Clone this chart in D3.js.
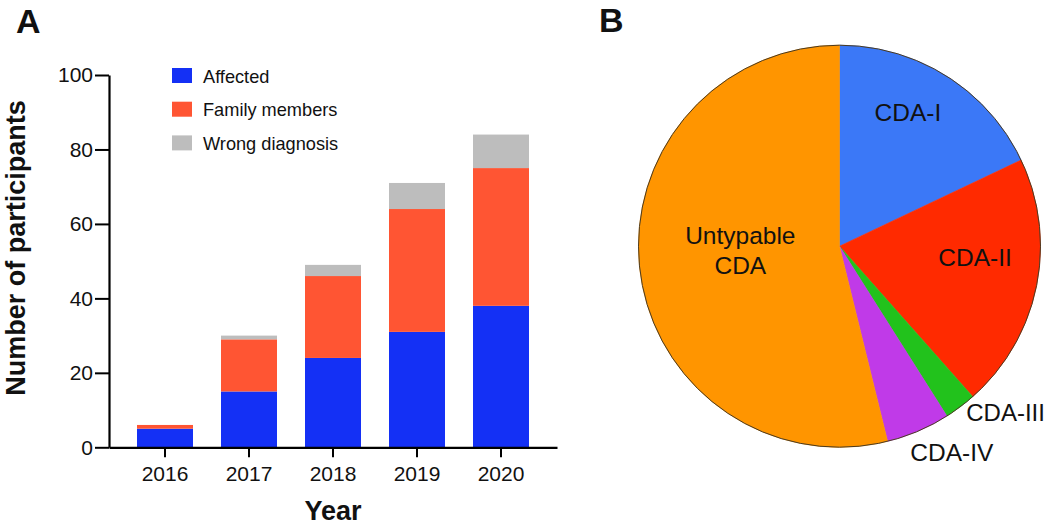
<!DOCTYPE html>
<html>
<head>
<meta charset="utf-8">
<script src="https://cdn.jsdelivr.net/npm/d3@7"></script>
<style>
  html, body { margin: 0; padding: 0; background: #fff; }
  svg { display: block; font-family: "Liberation Sans", Arial, Helvetica, sans-serif; }
</style>
</head>
<body>
<svg id="chart" width="1050" height="525"></svg>
<script>
// ---- Data: panel A (stacked bars) ----
const years = ["2016", "2017", "2018", "2019", "2020"];
const affected = [5, 15, 24, 31, 38];
const familyMembers = [1, 14, 22, 33, 37];
const wrongDiagnosis = [0, 1, 3, 7, 9];
const seriesNames = ["Affected", "Family members", "Wrong diagnosis"];
const seriesColors = ["#1430f5", "#ff5533", "#bdbdbd"];
const yTicks = [0, 20, 40, 60, 80, 100];

// ---- Data: panel B (pie) ----
const cdaTypes = ["CDA-I", "CDA-II", "CDA-III", "CDA-IV", "Untypable CDA"];
const cdaCounts = [7, 8, 1, 2, 21];
const cdaColors = ["#3b78f7", "#ff2a00", "#22c21c", "#c03ae8", "#ff9500"];

const svg = d3.select("#chart");
const FONT = '"Liberation Sans", Arial, Helvetica, sans-serif';

// ================= Panel A =================
const table = years.map((y, i) => ({
  year: y,
  "Affected": affected[i],
  "Family members": familyMembers[i],
  "Wrong diagnosis": wrongDiagnosis[i]
}));
const stacked = d3.stack().keys(seriesNames)(table);

const x = d3.scaleBand().domain(years).range([109, 557])
  .paddingInner(1 / 3).paddingOuter(1 / 3);
const y = d3.scaleLinear().domain([0, 100]).range([447.3, 75]);

const gA = svg.append("g");

gA.selectAll("g.series").data(stacked).join("g")
  .attr("class", "series")
  .attr("fill", (d, i) => seriesColors[i])
  .selectAll("rect").data(d => d).join("rect")
  .attr("x", d => x(d.data.year))
  .attr("width", x.bandwidth())
  .attr("y", d => y(d[1]))
  .attr("height", d => y(d[0]) - y(d[1]));

// Y axis
const yAxis = gA.append("g").attr("transform", "translate(109,0)")
  .call(d3.axisLeft(y).tickValues(yTicks).tickSize(14).tickSizeOuter(0).tickPadding(2));
yAxis.select(".domain").attr("stroke", "#000").attr("stroke-width", 2.2);
yAxis.selectAll(".tick line").attr("stroke", "#000").attr("stroke-width", 2);
yAxis.selectAll(".tick text").attr("font-size", 21).attr("font-family", FONT).attr("fill", "#111");

// X axis
const xAxis = gA.append("g").attr("transform", "translate(0,447.3)")
  .call(d3.axisBottom(x).tickSize(10).tickSizeOuter(0).tickPadding(9));
xAxis.select(".domain").attr("stroke", "#000").attr("stroke-width", 2.2);
xAxis.selectAll(".tick line").attr("stroke", "#000").attr("stroke-width", 2);
xAxis.selectAll(".tick text").attr("font-size", 21).attr("font-family", FONT).attr("fill", "#111");

// Axis titles
gA.append("text")
  .attr("x", 333).attr("y", 520)
  .attr("text-anchor", "middle")
  .attr("font-size", 27).attr("font-weight", "bold").attr("fill", "#111")
  .text("Year");

gA.append("text")
  .attr("transform", "translate(25,248) rotate(-90)")
  .attr("text-anchor", "middle")
  .attr("font-size", 27).attr("font-weight", "bold").attr("fill", "#111")
  .text("Number of participants");

// Legend
const legend = gA.append("g").attr("transform", "translate(172,68)");
const li = legend.selectAll("g").data(seriesNames).join("g")
  .attr("transform", (d, i) => `translate(0,${i * 33.7})`);
li.append("rect").attr("width", 20).attr("height", 15)
  .attr("fill", (d, i) => seriesColors[i]);
li.append("text").attr("x", 31).attr("y", 14.5)
  .attr("font-size", 18.2).attr("fill", "#111").text(d => d);

// Panel letter A
svg.append("text").attr("x", 16).attr("y", 33)
  .attr("font-size", 34).attr("font-weight", "bold").attr("fill", "#111").text("A");

// ================= Panel B =================
const cx = 839.5, cy = 246.2, R = 201;
const gB = svg.append("g").attr("transform", `translate(${cx},${cy})`);
const pie = d3.pie().sort(null).value(d => d.v).startAngle(0).endAngle(2 * Math.PI);
const arcs = pie(cdaTypes.map((t, i) => ({ t, v: cdaCounts[i], c: cdaColors[i] })));
const arc = d3.arc().innerRadius(0).outerRadius(R);

gB.selectAll("path.slice").data(arcs).join("path")
  .attr("class", "slice")
  .attr("d", arc)
  .attr("fill", d => d.data.c)
  .attr("stroke", d => d.data.c)
  .attr("stroke-width", 0.6);

gB.append("circle").attr("r", R).attr("fill", "none")
  .attr("stroke", "#4a3a20").attr("stroke-width", 1);

const LABEL_SIZE = 24.5;
function mid(d) { return (d.startAngle + d.endAngle) / 2; }

// CDA-I (inside)
(function () {
  const a = mid(arcs[0]) - 0.09;
  gB.append("text")
    .attr("x", Math.sin(a) * 150).attr("y", -Math.cos(a) * 150 + 8)
    .attr("text-anchor", "middle").attr("font-size", LABEL_SIZE).attr("fill", "#111")
    .text(cdaTypes[0]);
})();
// CDA-II (inside)
(function () {
  const a = mid(arcs[1]) - 0.12;
  gB.append("text")
    .attr("x", Math.sin(a) * 140 - 4).attr("y", -Math.cos(a) * 140 + 8)
    .attr("text-anchor", "middle").attr("font-size", LABEL_SIZE).attr("fill", "#111")
    .text(cdaTypes[1]);
})();
// CDA-III and CDA-IV outside the circle
(function () {
  const a3 = mid(arcs[2]);
  const a4 = mid(arcs[3]);
  gB.append("text")
    .attr("x", Math.sin(a3) * R + 6).attr("y", -Math.cos(a3) * R + 14)
    .attr("text-anchor", "start").attr("font-size", 24).attr("fill", "#111")
    .text(cdaTypes[2]);
  gB.append("text")
    .attr("x", Math.sin(a4) * R - 8).attr("y", -Math.cos(a4) * R + 30)
    .attr("text-anchor", "start").attr("font-size", LABEL_SIZE).attr("fill", "#111")
    .text(cdaTypes[3]);
})();
// Untypable CDA (inside, two lines)
(function () {
  const a = mid(arcs[4]) + 0.25;
  const px = Math.sin(a) * 100, py = -Math.cos(a) * 100;
  const words = cdaTypes[4].split(" ");
  const t = gB.append("text").attr("text-anchor", "middle")
    .attr("font-size", LABEL_SIZE).attr("fill", "#111");
  words.forEach((w, k) => {
    t.append("tspan").attr("x", px).attr("y", py + 11 + k * 30).text(w);
  });
})();

// Panel letter B
svg.append("text").attr("x", 599).attr("y", 32)
  .attr("font-size", 34).attr("font-weight", "bold").attr("fill", "#111").text("B");
</script>
</body>
</html>
